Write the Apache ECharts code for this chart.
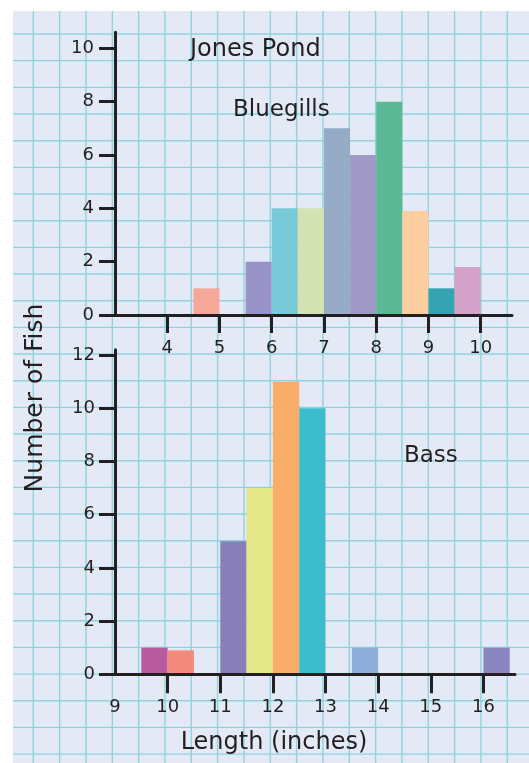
<!DOCTYPE html>
<html><head><meta charset="utf-8">
<script src="https://cdn.jsdelivr.net/npm/echarts@6/dist/echarts.min.js"></script>
<style>html,body{margin:0;padding:0;background:#fff}#c{width:529px;height:763px}</style>
</head><body><div id="c"></div><script>
// ---- data ----
const bluegillStarts = [4.5, 5.5, 6, 6.5, 7, 7.5, 8, 8.5, 9, 9.5];
const bluegillCounts = [1, 2, 4, 4, 7, 6, 8, 3.9, 1, 1.8];
const bassStarts = [9.5, 10, 11, 11.5, 12, 12.5, 13.5, 16];
const bassCounts = [1, 0.9, 5, 7, 11, 10, 1, 1];
const binWidth = 0.5;
const bluegillXTicks = [4, 5, 6, 7, 8, 9, 10];
const bassXTicks = [10, 11, 12, 13, 14, 15, 16];
const bassXLabels = [9, 10, 11, 12, 13, 14, 15, 16];
const bluegillYTicks = [0, 2, 4, 6, 8, 10];
const bassYTicks = [0, 2, 4, 6, 8, 10, 12];

// ---- styles ----
const bluegillColors = ['#f5a898', '#9893c8', '#78cad8', '#d4e2b4', '#95abc6', '#a099c8', '#5bb996', '#fdcfa0', '#35a3b0', '#d4a2c8'];
const bassColors = ['#b85a9e', '#f38a7c', '#887fba', '#e3e788', '#f9ad68', '#3dbccd', '#8eaed9', '#8b86c0'];
const ink = '#231f20';
const FONT = 'DejaVu Sans';
const paperColor = '#e4eaf5';
const paperLine = '#8fd3df';

const chart = echarts.init(document.getElementById('c'), null, {renderer: 'canvas'});

function histItem(colors) {
  return function (params, api) {
    const s = api.value(0), c = api.value(1);
    const p0 = api.coord([s, c]);
    const p1 = api.coord([s + binWidth, 0]);
    return {
      type: 'rect',
      shape: {x: p0[0], y: p0[1], width: p1[0] - p0[0], height: p1[1] - p0[1]},
      style: {fill: colors[params.dataIndex]}
    };
  };
}

// graph-paper background
const paper = [{type: 'rect', z: -20, silent: true, shape: {x: 13, y: 11, width: 516, height: 752}, style: {fill: paperColor}}];
for (let k = 0; k <= 18; k++) {
  const x = 33.3 + 26.33 * k;
  paper.push({type: 'line', z: -10, silent: true, shape: {x1: x, y1: 11, x2: x, y2: 763}, style: {stroke: paperLine, lineWidth: 1.4}});
}
for (let k = 0; k <= 27; k++) {
  const y = 34 + 26.67 * k;
  paper.push({type: 'line', z: -10, silent: true, shape: {x1: 13, y1: y, x2: 529, y2: y}, style: {stroke: paperLine, lineWidth: 1.4}});
}
const texts = [
  {type: 'text', z: 50, style: {text: 'Jones Pond', x: 190, y: 50, fill: ink, font: '24px "' + FONT + '"', verticalAlign: 'middle'}},
  {type: 'text', z: 50, style: {text: 'Bluegills', x: 233, y: 110, fill: ink, font: '23px "' + FONT + '"', verticalAlign: 'middle'}},
  {type: 'text', z: 50, style: {text: 'Bass', x: 404, y: 456, fill: ink, font: '23px "' + FONT + '"', verticalAlign: 'middle'}},
  {type: 'text', z: 50, x: 35, y: 398, rotation: Math.PI / 2, style: {text: 'Number of Fish', x: 0, y: 0, fill: ink, font: '25px "' + FONT + '"', align: 'center', verticalAlign: 'middle'}},
  {type: 'text', z: 50, style: {text: 'Length (inches)', x: 274, y: 743, fill: ink, font: '24px "' + FONT + '"', align: 'center', verticalAlign: 'middle'}}
];

const axisLine = {show: true, lineStyle: {color: ink, width: 3}};
const labelBase = {color: ink, fontSize: 18, fontFamily: FONT};

chart.setOption({
  backgroundColor: '#ffffff',
  animation: false,
  graphic: paper.concat(texts),
  grid: [
    {left: 115, top: 32.3, width: 397, height: 282.7},
    {left: 115, top: 349.8, width: 400, height: 324.5}
  ],
  xAxis: [
    {type: 'value', gridIndex: 0, min: 3, max: 10.6, z: 10,
      axisLine: axisLine, splitLine: {show: false},
      axisTick: {show: true, customValues: bluegillXTicks, length: 18, lineStyle: {color: ink, width: 3}},
      axisLabel: Object.assign({customValues: bluegillXTicks, margin: 24}, labelBase)},
    {type: 'value', gridIndex: 1, min: 9, max: 16.6, z: 10,
      axisLine: axisLine, splitLine: {show: false},
      axisTick: {show: true, customValues: bassXTicks, length: 19, lineStyle: {color: ink, width: 3}},
      axisLabel: Object.assign({customValues: bassXLabels, margin: 24}, labelBase)}
  ],
  yAxis: [
    {type: 'value', gridIndex: 0, min: 0, max: 10.6, z: 10,
      axisLine: axisLine, splitLine: {show: false},
      axisTick: {show: true, customValues: bluegillYTicks, length: 16, lineStyle: {color: ink, width: 3}},
      axisLabel: Object.assign({customValues: bluegillYTicks, margin: 21}, labelBase)},
    {type: 'value', gridIndex: 1, min: 0, max: 12.2, z: 10,
      axisLine: axisLine, splitLine: {show: false},
      axisTick: {show: true, customValues: bassYTicks, length: 16, lineStyle: {color: ink, width: 3}},
      axisLabel: Object.assign({customValues: bassYTicks, margin: 20}, labelBase)}
  ],
  series: [
    {type: 'custom', name: 'Bluegills', xAxisIndex: 0, yAxisIndex: 0, z: 2,
      data: bluegillStarts.map((s, i) => [s, bluegillCounts[i]]),
      encode: {x: 0, y: 1}, renderItem: histItem(bluegillColors)},
    {type: 'custom', name: 'Bass', xAxisIndex: 1, yAxisIndex: 1, z: 2,
      data: bassStarts.map((s, i) => [s, bassCounts[i]]),
      encode: {x: 0, y: 1}, renderItem: histItem(bassColors)}
  ]
});
</script></body></html>
